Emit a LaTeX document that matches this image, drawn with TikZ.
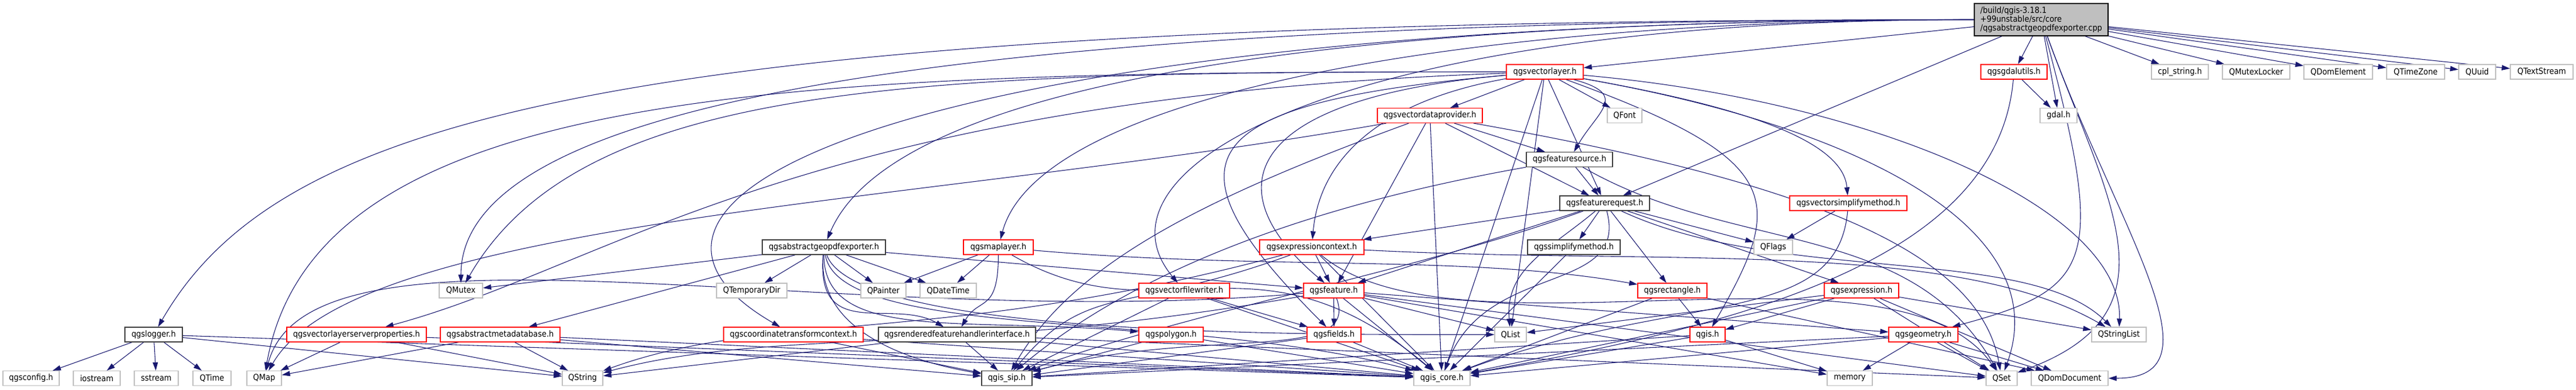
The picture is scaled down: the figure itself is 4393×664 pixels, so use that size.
\documentclass[tikz,border=0pt]{standalone}
\usepackage{fontspec}
\usetikzlibrary{arrows.meta,backgrounds}
\newfontfamily\dxfont{DejaVu Sans Condensed}
\newcommand\nodefont{\dxfont\fontsize{1.8}{1.875}\selectfont}
\definecolor{navy}{HTML}{191970}
\definecolor{boxred}{HTML}{FF0000}
\definecolor{boxgrey}{HTML}{BFBFBF}
\definecolor{boxdark}{HTML}{404040}

\begin{document}
\begin{tikzpicture}[x=0.125pt, y=0.125pt,
  nd/.style={draw, fill=white, rectangle, minimum height=3.125pt, inner sep=0.25pt, line width=0.16pt, font=\nodefont},
  wd/.style={minimum width=#1*0.125pt},
  trunc/.style={nd, draw=boxred},
  full/.style={nd, draw=boxdark},
  ext/.style={nd, draw=boxgrey},
  root/.style={nd, draw=black, fill=boxgrey, minimum height=6.875pt, align=left},
  dep/.style={draw=navy, line width=0.135pt, -{Triangle[length=1.75pt,width=1.1pt]}}]
\useasboundingbox (0,0) rectangle (4393,-664);
\node (T)[root, wd=228] at (3481,-33.5) {/build/qgis-3.18.1\\+99unstable/src/core\\/qgsabstractgeopdfexporter.cpp};
\node (vl)[trunc, wd=131] at (2634.5,-122.5) {qgsvectorlayer.h};
\node (gdalutils)[trunc, wd=113] at (3434.5,-122.5) {qgsgdalutils.h};
\node (cpl)[ext, wd=97] at (3717.5,-122.5) {cpl\_string.h};
\node (mutexlocker)[ext, wd=115] at (3847.5,-122.5) {QMutexLocker};
\node (domelement)[ext, wd=117] at (3987.5,-122.5) {QDomElement};
\node (timezone)[ext, wd=99] at (4119.5,-122.5) {QTimeZone};
\node (uuid)[ext, wd=63] at (4224.5,-122.5) {QUuid};
\node (textstream)[ext, wd=107] at (4334.5,-122.5) {QTextStream};
\node (vdp)[trunc, wd=179] at (2438.5,-197) {qgsvectordataprovider.h};
\node (font)[ext, wd=59] at (2770.5,-197) {QFont};
\node (gdal)[ext, wd=63] at (3510.5,-197) {gdal.h};
\node (fsrc)[full, wd=147] at (2676.5,-272) {qgsfeaturesource.h};
\node (freq)[full, wd=153] at (2736.5,-346.5) {qgsfeaturerequest.h};
\node (vsimp)[trunc, wd=200] at (3152,-346.5) {qgsvectorsimplifymethod.h};
\node (geopdf)[full, wd=210] at (1405,-421.5) {qgsabstractgeopdfexporter.h};
\node (maplayer)[trunc, wd=119] at (1702.5,-421.5) {qgsmaplayer.h};
\node (exprctx)[trunc, wd=178] at (2237,-421.5) {qgsexpressioncontext.h};
\node (simp)[full, wd=158] at (2684,-421.5) {qgssimplifymethod.h};
\node (flags)[ext, wd=66] at (3024,-421.5) {QFlags};
\node (mutex)[ext, wd=74] at (786,-495.5) {QMutex};
\node (tempdir)[ext, wd=120] at (1282,-495.5) {QTemporaryDir};
\node (painter)[ext, wd=77] at (1506.5,-495.5) {QPainter};
\node (datetime)[ext, wd=96] at (1617,-495.5) {QDateTime};
\node (vfw)[trunc, wd=155] at (2019.5,-495.5) {qgsvectorfilewriter.h};
\node (feature)[trunc, wd=103] at (2274.5,-495.5) {qgsfeature.h};
\node (rect)[trunc, wd=118] at (2852,-495.5) {qgsrectangle.h};
\node (expr)[trunc, wd=127] at (3174.5,-495.5) {qgsexpression.h};
\node (logger)[full, wd=98] at (262,-570.5) {qgslogger.h};
\node (vlsp)[trunc, wd=238] at (608,-570.5) {qgsvectorlayerserverproperties.h};
\node (meta)[trunc, wd=204] at (853,-570.5) {qgsabstractmetadatabase.h};
\node (ctc)[trunc, wd=238] at (1353,-570.5) {qgscoordinatetransformcontext.h};
\node (rfh)[full, wd=268] at (1632,-570.5) {qgsrenderedfeaturehandlerinterface.h};
\node (polygon)[trunc, wd=110] at (1997,-570.5) {qgspolygon.h};
\node (fields)[trunc, wd=92] at (2275,-570.5) {qgsfields.h};
\node (qlist)[ext, wd=54] at (2576,-570.5) {QList};
\node (qgis)[trunc, wd=60] at (2912,-570.5) {qgis.h};
\node (geom)[trunc, wd=118] at (3280,-570.5) {qgsgeometry.h};
\node (strlist)[ext, wd=93] at (3613.5,-570.5) {QStringList};
\node (config)[ext, wd=96] at (53,-645) {qgsconfig.h};
\node (iostream)[ext, wd=80] at (165,-645) {iostream};
\node (sstream)[ext, wd=75] at (266.5,-645) {sstream};
\node (qtime)[ext, wd=65] at (361.5,-645) {QTime};
\node (qmap)[ext, wd=59] at (450.5,-645) {QMap};
\node (qstring)[ext, wd=69] at (993.5,-645) {QString};
\node (sip)[full, wd=86] at (1717,-645) {qgis\_sip.h};
\node (core)[ext, wd=96] at (2459,-645) {qgis\_core.h};
\node (memory)[ext, wd=77] at (3154.5,-645) {memory};
\node (qset)[ext, wd=53] at (3413.5,-645) {QSet};
\node (domdoc)[ext, wd=131] at (3529.5,-645) {QDomDocument};
\begin{scope}[on background layer]
\draw[dep] (T) -- (vl);
\draw[dep] (T) -- (gdalutils);
\draw[dep] (T) -- (gdal);
\draw[dep] (T) -- (cpl);
\draw[dep] (T) -- (mutexlocker);
\draw[dep] (T) -- (domelement);
\draw[dep] (T) -- (timezone);
\draw[dep] (T) -- (uuid);
\draw[dep] (T) -- (textstream);
\draw[dep] (T) -- (freq);
\draw[dep] (T) to[out=180, in=67, out distance=143.75pt, in distance=35pt] (geopdf);
\draw[dep] (T) to[out=180, in=75, out distance=112.5pt, in distance=31.25pt] (maplayer);
\draw[dep] (T) to[out=180, in=130, out distance=137.5pt, in distance=31.25pt] (vfw);
\draw[dep] (T) to[out=180, in=60, out distance=287.5pt, in distance=52.5pt] (logger);
\draw[dep] (T) to[out=180, in=90, out distance=225pt, in distance=37.5pt] (mutex);
\draw[dep] (T) to[out=180, in=150, out distance=225pt, in distance=56.25pt] (ctc);
\draw[dep] (T) to[out=-75, in=15, out distance=50pt, in distance=31.25pt] (geom);
\draw[dep] (T) to[out=-70, in=20, out distance=37.5pt, in distance=37.5pt] (qset);
\draw[dep] (T) to[out=-70, in=0, out distance=43.75pt, in distance=25pt] (domdoc);
\draw[dep] (vl) -- (vdp);
\draw[dep] (vl) -- (font);
\draw[dep] (vl) -- (freq);
\draw[dep] (vl) -- (qlist);
\draw[dep] (vl) -- (core);
\draw[dep] (vl) to[out=-15, in=60, out distance=12.5pt, in distance=10pt] (fsrc);
\draw[dep] (vl) to[out=-20, in=60, out distance=50pt, in distance=31.25pt] (qgis);
\draw[dep] (vl) to[out=-10, in=95, out distance=31.25pt, in distance=12.5pt] (vsimp);
\draw[dep] (vl) to[out=-5, in=88, out distance=62.5pt, in distance=25pt] (strlist);
\draw[dep] (vl) to[out=-10, in=70, out distance=62.5pt, in distance=31.25pt] (qset);
\draw[dep] (vl) to[out=190, in=85, out distance=25pt, in distance=18.75pt] (exprctx);
\draw[dep] (vl) to[out=185, in=140, out distance=56.25pt, in distance=31.25pt] (feature);
\draw[dep] (vl) to[out=185, in=135, out distance=68.75pt, in distance=50pt] (fields);
\draw[dep] (vl) to[out=180, in=60, out distance=125pt, in distance=50pt] (mutex);
\draw[dep] (vl) to[out=180, in=80, out distance=150pt, in distance=62.5pt] (qmap);
\draw[dep] (vl) to[out=182, in=15, out distance=150pt, in distance=50pt] (vlsp);
\draw[dep] (vdp) -- (fsrc);
\draw[dep] (vdp) -- (freq);
\draw[dep] (vdp) -- (core);
\draw[dep] (vdp) -- (feature);
\draw[dep] (vdp) to[out=190, in=60, out distance=100pt, in distance=37.5pt] (qmap);
\draw[dep] (vdp) to[out=200, in=60, out distance=50pt, in distance=25pt] (sip);
\draw[dep] (vdp) to[out=-10, in=100, out distance=75pt, in distance=25pt] (qset);
\draw[dep] (fsrc) -- (freq);
\draw[dep] (fsrc) to[out=190, in=40, out distance=50pt, in distance=31.25pt] (sip);
\draw[dep] (fsrc) to[out=-30, in=120, out distance=37.5pt, in distance=37.5pt] (qset);
\draw[dep] (freq) -- (simp);
\draw[dep] (freq) -- (flags);
\draw[dep] (freq) -- (rect);
\draw[dep] (freq) -- (expr);
\draw[dep] (freq) -- (exprctx);
\draw[dep] (freq) -- (feature);
\draw[dep] (freq) to[out=220, in=95, out distance=12.5pt, in distance=12.5pt] (qlist);
\draw[dep] (freq) to[out=-75, in=70, out distance=18.75pt, in distance=25pt] (core);
\draw[dep] (freq) to[out=200, in=20, out distance=37.5pt, in distance=37.5pt] (sip);
\draw[dep] (freq) to[out=-25, in=135, out distance=37.5pt, in distance=25pt] (strlist);
\draw[dep] (simp) -- (core);
\draw[dep] (vsimp) -- (flags);
\draw[dep] (vsimp) to[out=-95, in=20, out distance=25pt, in distance=50pt] (core);
\draw[dep] (geopdf) -- (mutex);
\draw[dep] (geopdf) -- (tempdir);
\draw[dep] (geopdf) -- (painter);
\draw[dep] (geopdf) -- (datetime);
\draw[dep] (geopdf) -- (meta);
\draw[dep] (geopdf) -- (feature);
\draw[dep] (geopdf) to[out=-95, in=150, out distance=18.75pt, in distance=12.5pt] (rfh);
\draw[dep] (geopdf) to[out=-90, in=175, out distance=18.75pt, in distance=37.5pt] (polygon);
\draw[dep] (geopdf) to[out=-70, in=180, out distance=18.75pt, in distance=37.5pt] (qlist);
\draw[dep] (geopdf) to[out=-80, in=165, out distance=18.75pt, in distance=50pt] (core);
\draw[dep] (geopdf) to[out=-95, in=170, out distance=15pt, in distance=18.75pt] (sip);
\draw[dep] (maplayer) -- (painter);
\draw[dep] (maplayer) -- (datetime);
\draw[dep] (maplayer) to[out=-90, in=60, out distance=12.5pt, in distance=7.5pt] (rfh);
\draw[dep] (maplayer) to[out=-5, in=170, out distance=50pt, in distance=37.5pt] (rect);
\draw[dep] (maplayer) to[out=-30, in=140, out distance=37.5pt, in distance=50pt] (core);
\draw[dep] (exprctx) -- (feature);
\draw[dep] (exprctx) -- (core);
\draw[dep] (exprctx) to[out=200, in=50, out distance=37.5pt, in distance=25pt] (sip);
\draw[dep] (exprctx) to[out=195, in=20, out distance=75pt, in distance=37.5pt] (qstring);
\draw[dep] (exprctx) to[out=-3, in=150, out distance=62.5pt, in distance=37.5pt] (strlist);
\draw[dep] (exprctx) to[out=-40, in=125, out distance=37.5pt, in distance=37.5pt] (qset);
\draw[dep] (vfw) -- (fields);
\draw[dep] (vfw) -- (sip);
\draw[dep] (vfw) -- (core);
\draw[dep] (feature) -- (fields);
\draw[dep] (feature) -- (qlist);
\draw[dep] (feature) -- (geom);
\draw[dep] (feature) -- (memory);
\draw[dep] (feature) -- (qset);
\draw[dep] (feature) -- (core);
\draw[dep] (feature) to[out=185, in=75, out distance=100pt, in distance=37.5pt] (qmap);
\draw[dep] (feature) to[out=190, in=15, out distance=75pt, in distance=37.5pt] (qstring);
\draw[dep] (feature) to[out=-70, in=15, out distance=15pt, in distance=37.5pt] (sip);
\draw[dep] (rect) -- (qgis);
\draw[dep] (rect) -- (core);
\draw[dep] (rect) -- (domdoc);
\draw[dep] (expr) -- (qlist);
\draw[dep] (expr) -- (qgis);
\draw[dep] (expr) -- (core);
\draw[dep] (expr) -- (strlist);
\draw[dep] (expr) -- (qset);
\draw[dep] (expr) -- (domdoc);
\draw[dep] (logger) -- (config);
\draw[dep] (logger) -- (iostream);
\draw[dep] (logger) -- (sstream);
\draw[dep] (logger) -- (qtime);
\draw[dep] (logger) -- (qstring);
\draw[dep] (logger) -- (core);
\draw[dep] (vlsp) -- (qmap);
\draw[dep] (vlsp) -- (qstring);
\draw[dep] (vlsp) -- (core);
\draw[dep] (meta) -- (qstring);
\draw[dep] (meta) -- (qmap);
\draw[dep] (meta) -- (core);
\draw[dep] (meta) -- (sip);
\draw[dep] (ctc) -- (core);
\draw[dep] (ctc) -- (sip);
\draw[dep] (rfh) -- (sip);
\draw[dep] (rfh) -- (core);
\draw[dep] (rfh) -- (qset);
\draw[dep] (rfh) -- (qstring);
\draw[dep] (polygon) -- (sip);
\draw[dep] (polygon) -- (core);
\draw[dep] (fields) -- (sip);
\draw[dep] (fields) -- (core);
\draw[dep] (qgis) -- (core);
\draw[dep] (qgis) -- (memory);
\draw[dep] (qgis) -- (sip);
\draw[dep] (geom) -- (memory);
\draw[dep] (geom) -- (qset);
\draw[dep] (geom) -- (domdoc);
\draw[dep] (geom) -- (core);
\draw[dep] (geom) -- (sip);
\draw[dep] (gdalutils) -- (gdal);
\draw[dep] (gdalutils) to[out=-95, in=10, out distance=37.5pt, in distance=62.5pt] (core);
\end{scope}
\end{tikzpicture}
\end{document}
